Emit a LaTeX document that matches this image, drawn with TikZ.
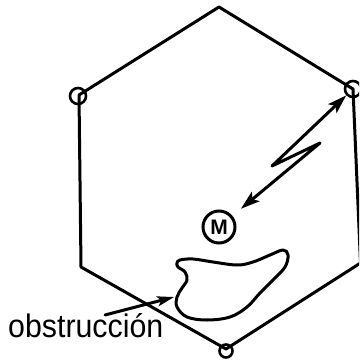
\documentclass[tikz,border=0pt]{standalone}
\usepackage{fontspec}
\setmainfont{Liberation Sans}
\usetikzlibrary{arrows.meta}
\tikzset{
  ink/.style={line width=3pt, line join=round, line cap=round},
  tower/.style={circle, draw, line width=2.6pt, inner sep=0pt, minimum size=16pt},
  dblarrow/.style={{Stealth[length=19pt,width=12pt,inset=4pt]}-{Stealth[length=19pt,width=12pt,inset=4pt]}},
  onearrow/.style={-{Stealth[length=17pt,width=10pt,inset=4pt]}},
}
\begin{document}
\begin{tikzpicture}[x=1pt,y=-1pt]
\useasboundingbox (0,0) rectangle (359,363);
\clip (0,0) rectangle (359,363);
% hexagon vertices
\coordinate (vT) at (219,7);
\coordinate (vUR) at (353,89);
\coordinate (vLR) at (360.5,263);
\coordinate (vB) at (226,349);
\coordinate (vLL) at (81,267);
\coordinate (vUL) at (79,95);
\draw[ink] (vT) -- (vUR) -- (vLR) -- (vB) -- (vLL) -- (vUL) -- cycle;
% towers
\node[tower] (tUL) at (78,96) {};
\node[tower] (tUR) at (353,89) {};
\node[tower, minimum size=13pt] (tB) at (226,351) {};
% mobile
\node[circle, draw, line width=3pt, minimum size=32pt, inner sep=0pt,
      font=\bfseries\fontsize{21}{21}\selectfont] (M) at (219,227) {M};
% radio link
\coordinate (zA) at (272,166);
\coordinate (zB) at (320,143);
\draw[ink, dblarrow, shorten >=11pt] (tUR) -- (zA) -- (zB) -- (M);
% obstruction
\draw[ink] plot[smooth cycle, tension=0.6] coordinates {
 (180,260) (193,259) (213,262) (237,265) (253,262) (270,255) (283,250)
 (288,255) (285,267) (273,280) (260,293) (247,307) (230,317) (207,320)
 (187,317) (177,307) (177,297) (182,288) (187,280) (185,272) (178,267) (177,263)};
\coordinate (blob) at (174,297);
\node[anchor=base west, inner sep=0pt] (lbl) at (8,337) {\resizebox{155pt}{24pt}{obstrucci\'on}};
\coordinate (oS) at (105,315);
\draw[ink, onearrow] (oS) -- (blob);
\end{tikzpicture}
\end{document}
